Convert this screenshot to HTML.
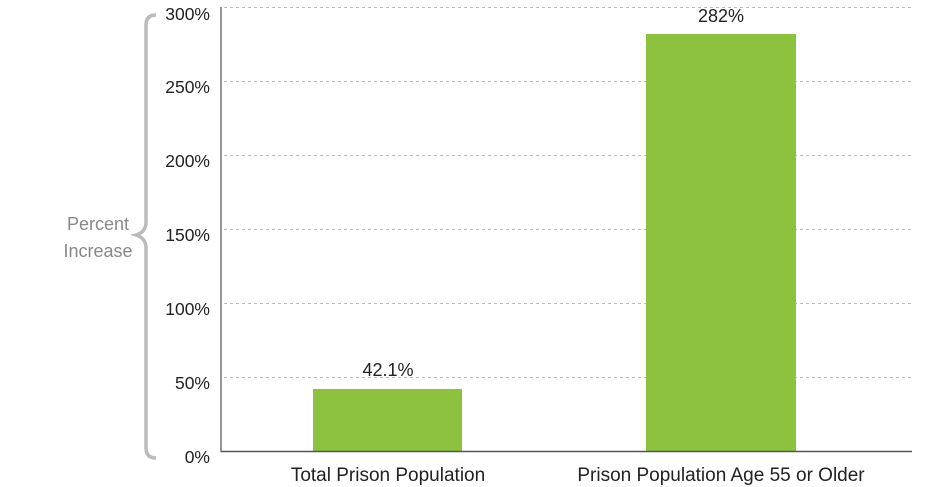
<!DOCTYPE html>
<html><head><style>
html,body{margin:0;padding:0;background:#fff;}
svg{display:block;}
text{font-family:"Liberation Sans",sans-serif;}
</style></head><body>
<svg width="946" height="487" viewBox="0 0 946 487">
<g stroke="#bbb" stroke-width="1" stroke-dasharray="3,3">
<line x1="224" y1="7.5" x2="912" y2="7.5"/>
<line x1="224" y1="81.5" x2="912" y2="81.5"/>
<line x1="224" y1="155.5" x2="912" y2="155.5"/>
<line x1="224" y1="229.5" x2="912" y2="229.5"/>
<line x1="224" y1="303.5" x2="912" y2="303.5"/>
<line x1="224" y1="377.5" x2="912" y2="377.5"/>
</g>
<rect x="313" y="389" width="149" height="62" fill="#8dc23f"/>
<rect x="646" y="34" width="150" height="417" fill="#8dc23f"/>
<line x1="221" y1="7" x2="221" y2="452" stroke="#777" stroke-width="1.5"/>
<line x1="221" y1="451.5" x2="912" y2="451.5" stroke="#555" stroke-width="1.5"/>
<g font-size="17.5" fill="#222" text-anchor="end">
<text x="210" y="20">300%</text>
<text x="210" y="93">250%</text>
<text x="210" y="167">200%</text>
<text x="210" y="241">150%</text>
<text x="210" y="315">100%</text>
<text x="210" y="389">50%</text>
<text x="210" y="463">0%</text>
</g>
<path d="M156 15 Q146 15 146 25 L146 222 Q146 232 136 235 Q146 238 146 248 L146 448 Q146 458 156 458" fill="none" stroke="#bbb" stroke-width="3.5"/>
<g font-size="18" fill="#888" text-anchor="middle">
<text x="98" y="230">Percent</text>
<text x="98" y="257">Increase</text>
</g>
<g font-size="18" fill="#222" text-anchor="middle">
<text x="388" y="376">42.1%</text>
<text x="721" y="22">282%</text>
</g>
<g font-size="19" fill="#222" text-anchor="middle">
<text x="388" y="481">Total Prison Population</text>
<text x="721" y="481">Prison Population Age 55 or Older</text>
</g>
</svg>
</body></html>
